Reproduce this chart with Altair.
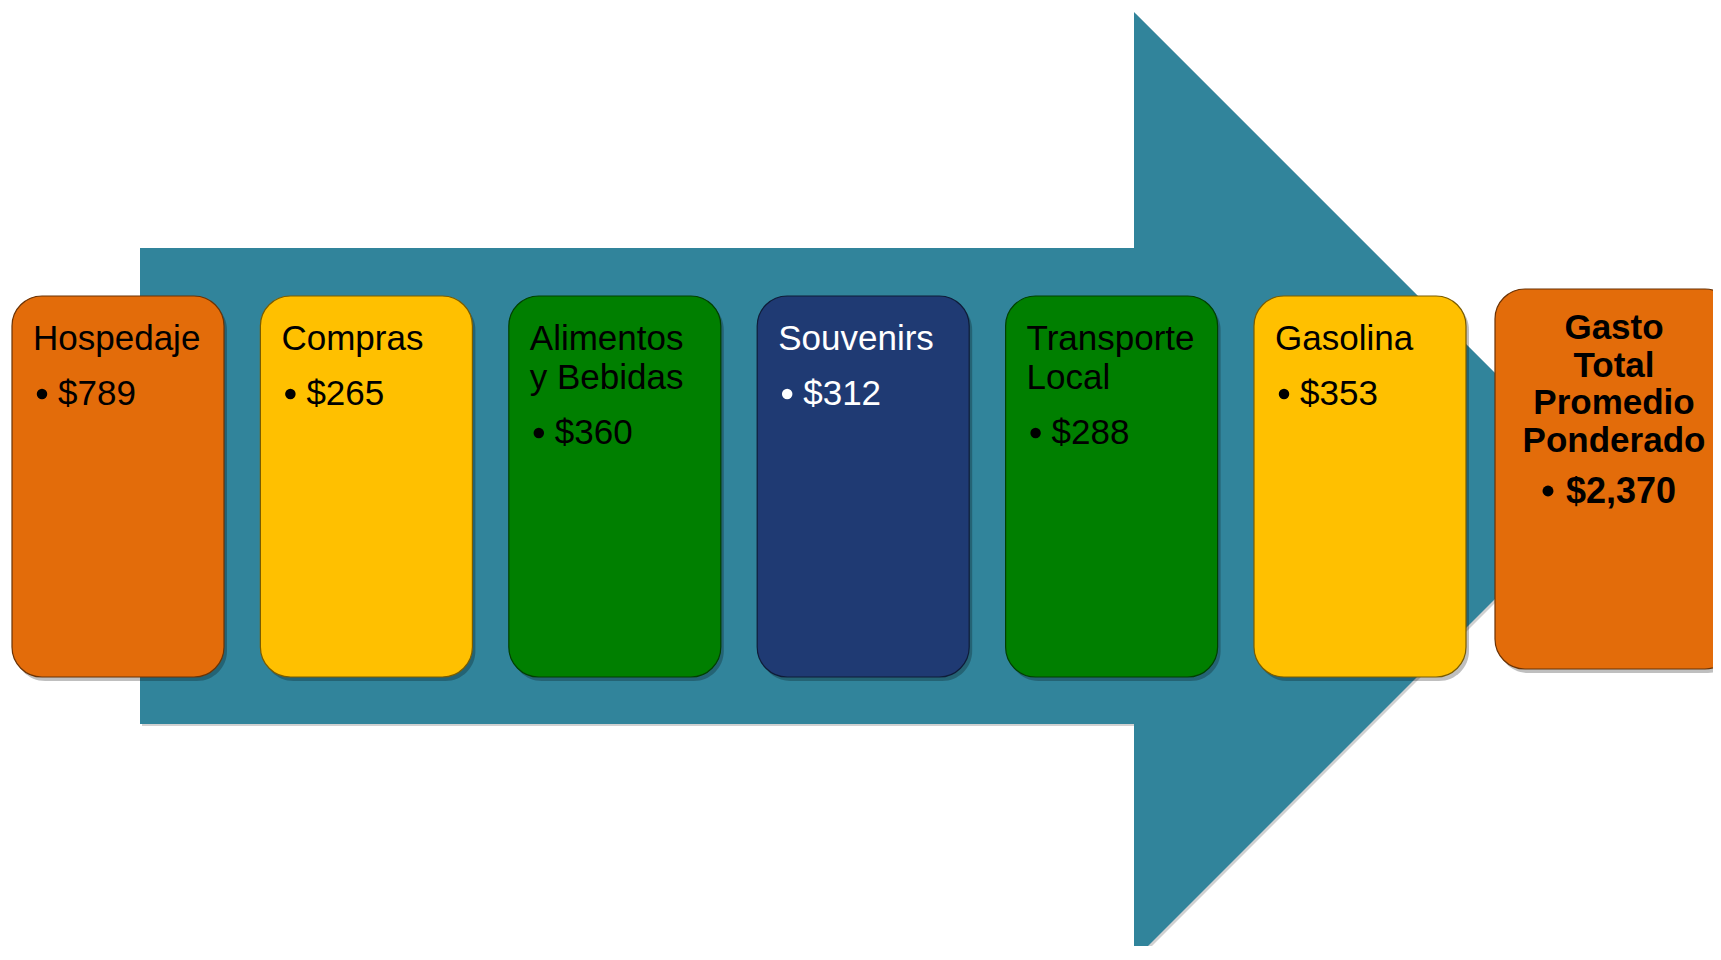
import altair as alt
import pandas as pd

# ---- data ----
categories = ["Hospedaje", "Compras", "Alimentos\ny Bebidas", "Souvenirs", "Transporte\nLocal", "Gasolina"]
values = [789, 265, 360, 312, 288, 353]
total_label = "Gasto\nTotal\nPromedio\nPonderado"
total_value = 2370

# ---- styles ----
fills = ["#E36C0A", "#FFC000", "#007F00", "#1F3A73", "#007F00", "#FFC000"]
edges = ["#6B3305", "#7A5C00", "#004000", "#0F1C38", "#004000", "#7A5C00"]
text_colors = ["#000000", "#000000", "#000000", "#FFFFFF", "#000000", "#000000"]
total_fill = "#E36C0A"
total_edge = "#6B3305"
teal = "#31849B"
FONT = "Liberation Sans"

# ---- layout (page pixel coordinates) ----
W, H = 1705, 938
X0, Y0 = 8, 8
xs = alt.Scale(domain=[X0, X0 + W], nice=False, zero=False, padding=0)
ys = alt.Scale(domain=[Y0, Y0 + H], nice=False, zero=False, reverse=True, padding=0)

box_left0, box_step, box_w = 12, 248.4, 212
box_top, box_bot = 296, 677
title_base, line_h, val_gap = 350, 39, 55

box_rows, title_rows, value_rows = [], [], []
for i, (cat, v) in enumerate(zip(categories, values)):
    left = box_left0 + box_step * i
    lines = cat.split("\n")
    box_rows.append(dict(l=left, r=left + box_w, t=box_top, b=box_bot,
                         sl=left + 3, sr=left + box_w + 3, st=box_top + 4, sb=box_bot + 4,
                         fill=fills[i], edge=edges[i]))
    for j, ln in enumerate(lines):
        title_rows.append(dict(x=left + 21, y=title_base + line_h * j, text=ln, col=text_colors[i]))
    vy = title_base + line_h * (len(lines) - 1) + val_gap
    value_rows.append(dict(bx=left + 30, by=vy - 11, x=left + 46, y=vy,
                           text=f"${v:,}", col=text_colors[i]))

boxes = pd.DataFrame(box_rows)
titles = pd.DataFrame(title_rows)
vals = pd.DataFrame(value_rows)

# total box
t_left, t_right, t_top, t_bot = 1495, 1735, 289, 669
t_cx = 1614
t_lines = total_label.split("\n")
total_box = pd.DataFrame([dict(l=t_left, r=t_right, t=t_top, b=t_bot,
                               sl=t_left + 3, sr=t_right + 3, st=t_top + 4, sb=t_bot + 4)])
total_titles = pd.DataFrame([dict(x=t_cx, y=339 + 37.7 * j, text=ln) for j, ln in enumerate(t_lines)])
total_val = pd.DataFrame([dict(bx=1548, by=491, x=1566, y=503, text=f"${total_value:,}")])

# arrow geometry
shaft = pd.DataFrame([dict(l=140, r=1134, t=248, b=724)])
head = pd.DataFrame([dict(x=1134, y=12, y2=960), dict(x=1608, y=486, y2=486)])
head_sh = pd.DataFrame([dict(x=1136, y=14, y2=962), dict(x=1610, y=488, y2=488)])
shaft_sh = pd.DataFrame([dict(l=142, r=1136, t=250, b=726)])


def X(f):
    return alt.X(f, type="quantitative", scale=xs, axis=None)


def Y(f):
    return alt.Y(f, type="quantitative", scale=ys, axis=None)


layers = []
# arrow shadow
layers.append(alt.Chart(shaft_sh).mark_rect(color="#000000", opacity=0.18, clip=True).encode(
    x=X("l"), x2="r", y=Y("t"), y2="b"))
layers.append(alt.Chart(head_sh).mark_area(color="#000000", opacity=0.18, orient="vertical", clip=True).encode(
    x=X("x"), y=Y("y"), y2="y2"))
# arrow
layers.append(alt.Chart(shaft).mark_rect(color=teal, clip=True).encode(
    x=X("l"), x2="r", y=Y("t"), y2="b"))
layers.append(alt.Chart(head).mark_area(color=teal, orient="vertical", clip=True).encode(
    x=X("x"), y=Y("y"), y2="y2"))

# box shadows
layers.append(alt.Chart(boxes).mark_rect(color="#000000", opacity=0.25, cornerRadius=30, clip=True).encode(
    x=X("sl"), x2="sr", y=Y("st"), y2="sb"))
layers.append(alt.Chart(total_box).mark_rect(color="#000000", opacity=0.25, cornerRadius=30, clip=True).encode(
    x=X("sl"), x2="sr", y=Y("st"), y2="sb"))
# boxes
layers.append(alt.Chart(boxes).mark_rect(cornerRadius=30, strokeWidth=1.2, clip=True).encode(
    x=X("l"), x2="r", y=Y("t"), y2="b",
    fill=alt.Fill("fill:N", scale=None),
    stroke=alt.Stroke("edge:N", scale=None)))
layers.append(alt.Chart(total_box).mark_rect(cornerRadius=30, strokeWidth=1.2, clip=True,
                                             fill=total_fill, stroke=total_edge).encode(
    x=X("l"), x2="r", y=Y("t"), y2="b"))

# titles
layers.append(alt.Chart(titles).mark_text(align="left", baseline="alphabetic", fontSize=35, font=FONT).encode(
    x=X("x"), y=Y("y"), text="text:N", color=alt.Color("col:N", scale=None)))
# bullets
layers.append(alt.Chart(vals).mark_circle(size=110, opacity=1).encode(
    x=X("bx"), y=Y("by"), color=alt.Color("col:N", scale=None)))
# values
layers.append(alt.Chart(vals).mark_text(align="left", baseline="alphabetic", fontSize=35, font=FONT).encode(
    x=X("x"), y=Y("y"), text="text:N", color=alt.Color("col:N", scale=None)))

# total texts
layers.append(alt.Chart(total_titles).mark_text(align="center", baseline="alphabetic", fontSize=35,
                                                font=FONT, fontWeight="bold", color="#000000").encode(
    x=X("x"), y=Y("y"), text="text:N"))
layers.append(alt.Chart(total_val).mark_circle(size=120, opacity=1, color="#000000").encode(
    x=X("bx"), y=Y("by")))
layers.append(alt.Chart(total_val).mark_text(align="left", baseline="alphabetic", fontSize=36,
                                             font=FONT, fontWeight="bold", color="#000000").encode(
    x=X("x"), y=Y("y"), text="text:N"))

chart = alt.layer(*layers).properties(
    width=W, height=H, padding=0, autosize=alt.AutoSizeParams(type="none")
).configure_view(stroke=None)

chart.save("out.html", embed_options={"renderer": "svg", "actions": False})
